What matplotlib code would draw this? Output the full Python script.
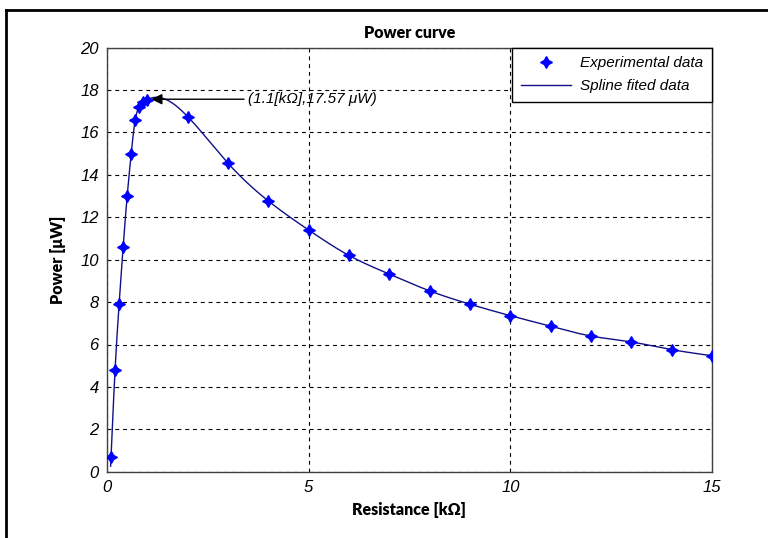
import numpy as np
import matplotlib
matplotlib.use("Agg")
import matplotlib.pyplot as plt
from matplotlib.lines import Line2D

# ---- data ----
resistance_kohm = [0.1, 0.2, 0.3, 0.4, 0.5, 0.6, 0.7, 0.8, 0.9, 1.0,
                   2, 3, 4, 5, 6, 7, 8, 9, 10, 11, 12, 13, 14, 15]
power_uw = [0.7, 4.8, 7.9, 10.6, 13.0, 15.0, 16.6, 17.2, 17.42, 17.55,
            16.75, 14.55, 12.77, 11.4, 10.2, 9.32, 8.53, 7.9, 7.36, 6.86,
            6.4, 6.12, 5.76, 5.47]
peak_point = (1.1, 17.57)
peak_text_pos = (3.5, 17.57)
peak_label = "(1.1[kΩ],17.57 μW)"
x_ticks = [0, 5, 10, 15]
y_ticks = [0, 2, 4, 6, 8, 10, 12, 14, 16, 18, 20]


def natural_cubic_spline(x, y, xs):
    x = np.asarray(x, float)
    y = np.asarray(y, float)
    n = len(x)
    h = np.diff(x)
    A = np.zeros((n, n))
    b = np.zeros(n)
    A[0, 0] = 1
    A[-1, -1] = 1
    for i in range(1, n - 1):
        A[i, i - 1] = h[i - 1]
        A[i, i] = 2 * (h[i - 1] + h[i])
        A[i, i + 1] = h[i]
        b[i] = 3 * ((y[i + 1] - y[i]) / h[i] - (y[i] - y[i - 1]) / h[i - 1])
    c = np.linalg.solve(A, b)
    bcoef = (y[1:] - y[:-1]) / h - h * (2 * c[:-1] + c[1:]) / 3
    d = (c[1:] - c[:-1]) / (3 * h)
    idx = np.clip(np.searchsorted(x, xs) - 1, 0, n - 2)
    dx = xs - x[idx]
    return y[idx] + bcoef[idx] * dx + c[idx] * dx ** 2 + d[idx] * dx ** 3


xs = np.linspace(0.04, 15, 1500)
ys = natural_cubic_spline(resistance_kohm, power_uw, xs)
mask = ys >= 0
xs, ys = xs[mask], ys[mask]

W, H = 768, 538
fig = plt.figure(figsize=(W / 100, H / 100), dpi=100)
ax = fig.add_axes([107 / W, 1 - 471.7 / H, (712 - 107) / W, (471.7 - 47.7) / H])

tick_font = dict(family=["Liberation Sans", "DejaVu Sans"], style="italic", size=12)
label_font = dict(family=["Lato", "DejaVu Sans"], weight="heavy", size=11.5)

ax.plot(resistance_kohm, power_uw, linestyle="none", marker=(4, 1, 0),
        markersize=8.5, color="#0000ff", markeredgecolor="#0000ff",
        label="Experimental data", zorder=4)
ax.plot(xs, ys, color="#10108a", linewidth=1.0, label="Spline fited data", zorder=3)

ax.set_xlim(0, 15)
ax.set_ylim(0, 20)
ax.set_xticks(x_ticks)
ax.set_yticks(y_ticks)
ax.set_xticklabels([str(t) for t in x_ticks], fontdict=tick_font)
ax.set_yticklabels([str(t) for t in y_ticks], fontdict=tick_font)
ax.tick_params(length=0, pad=6)

ax.grid(True, color="black", linestyle=(0, (3.5, 3.5)), linewidth=0.8)
ax.set_axisbelow(True)
for s in ax.spines.values():
    s.set_color("#404040")
    s.set_linewidth(1.0)

ax.set_title("Power curve", pad=7, **label_font)
ax.set_xlabel("Resistance [kΩ]", labelpad=5, **label_font)
ax.set_ylabel("Power [μW]", labelpad=10, **label_font)

ax.annotate(peak_label, xy=peak_point, xytext=peak_text_pos, textcoords="data",
            fontsize=11, fontstyle="italic", family=["Liberation Sans", "DejaVu Sans"],
            va="center", ha="left",
            arrowprops=dict(arrowstyle="-|>", color="black", lw=1.0,
                            mutation_scale=16, shrinkA=1, shrinkB=0))

leg = ax.legend(loc="upper right", borderaxespad=0, fancybox=False,
                edgecolor="black", framealpha=1, handlelength=3.3,
                handletextpad=0.6, borderpad=0.55, labelspacing=0.6,
                prop=dict(family=["Liberation Sans", "DejaVu Sans"], style="italic", size=11))
leg.get_frame().set_linewidth(1.0)

# outer frame (top and left edges)
fig.add_artist(Line2D([6.2 / W, 6.2 / W], [0, 1 - 9.7 / H], color="black",
                      linewidth=2.0, transform=fig.transFigure))
fig.add_artist(Line2D([6.2 / W, 1], [1 - 9.7 / H, 1 - 9.7 / H], color="black",
                      linewidth=2.0, transform=fig.transFigure))

fig.savefig("out.png", dpi=100)
